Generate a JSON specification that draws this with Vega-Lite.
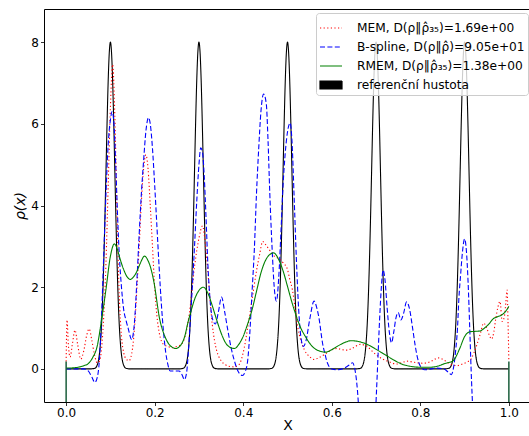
{
  "$schema": "https://vega.github.io/schema/vega-lite/v6.json",
  "width": 487,
  "height": 393,
  "autosize": "none",
  "padding": {"left": 44, "top": 9, "right": 0, "bottom": 34},
  "background": "white",
  "config": {
    "font": "DejaVu Sans",
    "view": {"stroke": "black", "strokeWidth": 1},
    "axis": {"grid": false, "domain": false, "tickColor": "black", "tickSize": 3.5, "tickWidth": 0.8, "labelColor": "black", "labelFontSize": 12, "labelPadding": 2, "titleColor": "black", "titleFontWeight": "normal", "titleFontSize": 14}
  },
  "data": {"values": [
    {"s":"REF","x":0,"y":0},
    {"s":"REF","x":0.055,"y":0},{"s":"REF","x":0.065,"y":0.0175},{"s":"REF","x":0.07,"y":0.089},{"s":"REF","x":0.0725,"y":0.18},{"s":"REF","x":0.075,"y":0.35},{"s":"REF","x":0.0775,"y":0.64},{"s":"REF","x":0.08,"y":1.08},{"s":"REF","x":0.0825,"y":1.73},{"s":"REF","x":0.085,"y":2.6},{"s":"REF","x":0.0875,"y":3.66},{"s":"REF","x":0.09,"y":4.85},{"s":"REF","x":0.0925,"y":6.04},{"s":"REF","x":0.095,"y":7.06},{"s":"REF","x":0.0975,"y":7.75},{"s":"REF","x":0.1,"y":8},{"s":"REF","x":0.1025,"y":7.75},{"s":"REF","x":0.105,"y":7.06},{"s":"REF","x":0.1075,"y":6.04},{"s":"REF","x":0.11,"y":4.85},{"s":"REF","x":0.1125,"y":3.66},{"s":"REF","x":0.115,"y":2.6},{"s":"REF","x":0.1175,"y":1.73},{"s":"REF","x":0.12,"y":1.08},{"s":"REF","x":0.1225,"y":0.64},{"s":"REF","x":0.125,"y":0.35},{"s":"REF","x":0.1275,"y":0.18},{"s":"REF","x":0.13,"y":0.089},{"s":"REF","x":0.135,"y":0.0175},{"s":"REF","x":0.145,"y":0},
    {"s":"REF","x":0.255,"y":0},{"s":"REF","x":0.265,"y":0.0175},{"s":"REF","x":0.27,"y":0.089},{"s":"REF","x":0.2725,"y":0.18},{"s":"REF","x":0.275,"y":0.35},{"s":"REF","x":0.2775,"y":0.64},{"s":"REF","x":0.28,"y":1.08},{"s":"REF","x":0.2825,"y":1.73},{"s":"REF","x":0.285,"y":2.6},{"s":"REF","x":0.2875,"y":3.66},{"s":"REF","x":0.29,"y":4.85},{"s":"REF","x":0.2925,"y":6.04},{"s":"REF","x":0.295,"y":7.06},{"s":"REF","x":0.2975,"y":7.75},{"s":"REF","x":0.3,"y":8},{"s":"REF","x":0.3025,"y":7.75},{"s":"REF","x":0.305,"y":7.06},{"s":"REF","x":0.3075,"y":6.04},{"s":"REF","x":0.31,"y":4.85},{"s":"REF","x":0.3125,"y":3.66},{"s":"REF","x":0.315,"y":2.6},{"s":"REF","x":0.3175,"y":1.73},{"s":"REF","x":0.32,"y":1.08},{"s":"REF","x":0.3225,"y":0.64},{"s":"REF","x":0.325,"y":0.35},{"s":"REF","x":0.3275,"y":0.18},{"s":"REF","x":0.33,"y":0.089},{"s":"REF","x":0.335,"y":0.0175},{"s":"REF","x":0.345,"y":0},
    {"s":"REF","x":0.455,"y":0},{"s":"REF","x":0.465,"y":0.0175},{"s":"REF","x":0.47,"y":0.089},{"s":"REF","x":0.4725,"y":0.18},{"s":"REF","x":0.475,"y":0.35},{"s":"REF","x":0.4775,"y":0.64},{"s":"REF","x":0.48,"y":1.08},{"s":"REF","x":0.4825,"y":1.73},{"s":"REF","x":0.485,"y":2.6},{"s":"REF","x":0.4875,"y":3.66},{"s":"REF","x":0.49,"y":4.85},{"s":"REF","x":0.4925,"y":6.04},{"s":"REF","x":0.495,"y":7.06},{"s":"REF","x":0.4975,"y":7.75},{"s":"REF","x":0.5,"y":8},{"s":"REF","x":0.5025,"y":7.75},{"s":"REF","x":0.505,"y":7.06},{"s":"REF","x":0.5075,"y":6.04},{"s":"REF","x":0.51,"y":4.85},{"s":"REF","x":0.5125,"y":3.66},{"s":"REF","x":0.515,"y":2.6},{"s":"REF","x":0.5175,"y":1.73},{"s":"REF","x":0.52,"y":1.08},{"s":"REF","x":0.5225,"y":0.64},{"s":"REF","x":0.525,"y":0.35},{"s":"REF","x":0.5275,"y":0.18},{"s":"REF","x":0.53,"y":0.089},{"s":"REF","x":0.535,"y":0.0175},{"s":"REF","x":0.545,"y":0},
    {"s":"REF","x":0.655,"y":0},{"s":"REF","x":0.665,"y":0.0175},{"s":"REF","x":0.67,"y":0.089},{"s":"REF","x":0.6725,"y":0.18},{"s":"REF","x":0.675,"y":0.35},{"s":"REF","x":0.6775,"y":0.64},{"s":"REF","x":0.68,"y":1.08},{"s":"REF","x":0.6825,"y":1.73},{"s":"REF","x":0.685,"y":2.6},{"s":"REF","x":0.6875,"y":3.66},{"s":"REF","x":0.69,"y":4.85},{"s":"REF","x":0.6925,"y":6.04},{"s":"REF","x":0.695,"y":7.06},{"s":"REF","x":0.6975,"y":7.75},{"s":"REF","x":0.7,"y":8},{"s":"REF","x":0.7025,"y":7.75},{"s":"REF","x":0.705,"y":7.06},{"s":"REF","x":0.7075,"y":6.04},{"s":"REF","x":0.71,"y":4.85},{"s":"REF","x":0.7125,"y":3.66},{"s":"REF","x":0.715,"y":2.6},{"s":"REF","x":0.7175,"y":1.73},{"s":"REF","x":0.72,"y":1.08},{"s":"REF","x":0.7225,"y":0.64},{"s":"REF","x":0.725,"y":0.35},{"s":"REF","x":0.7275,"y":0.18},{"s":"REF","x":0.73,"y":0.089},{"s":"REF","x":0.735,"y":0.0175},{"s":"REF","x":0.745,"y":0},
    {"s":"REF","x":0.855,"y":0},{"s":"REF","x":0.865,"y":0.0175},{"s":"REF","x":0.87,"y":0.089},{"s":"REF","x":0.8725,"y":0.18},{"s":"REF","x":0.875,"y":0.35},{"s":"REF","x":0.8775,"y":0.64},{"s":"REF","x":0.88,"y":1.08},{"s":"REF","x":0.8825,"y":1.73},{"s":"REF","x":0.885,"y":2.6},{"s":"REF","x":0.8875,"y":3.66},{"s":"REF","x":0.89,"y":4.85},{"s":"REF","x":0.8925,"y":6.04},{"s":"REF","x":0.895,"y":7.06},{"s":"REF","x":0.8975,"y":7.75},{"s":"REF","x":0.9,"y":8},{"s":"REF","x":0.9025,"y":7.75},{"s":"REF","x":0.905,"y":7.06},{"s":"REF","x":0.9075,"y":6.04},{"s":"REF","x":0.91,"y":4.85},{"s":"REF","x":0.9125,"y":3.66},{"s":"REF","x":0.915,"y":2.6},{"s":"REF","x":0.9175,"y":1.73},{"s":"REF","x":0.92,"y":1.08},{"s":"REF","x":0.9225,"y":0.64},{"s":"REF","x":0.925,"y":0.35},{"s":"REF","x":0.9275,"y":0.18},{"s":"REF","x":0.93,"y":0.089},{"s":"REF","x":0.935,"y":0.0175},{"s":"REF","x":0.945,"y":0},
    {"s":"REF","x":1,"y":0},

    {"s":"MEM","x":0,"y":0.18},{"s":"MEM","x":0.002,"y":1.2},{"s":"MEM","x":0.005,"y":0.6},{"s":"MEM","x":0.009,"y":0.29},{"s":"MEM","x":0.014,"y":0.6},{"s":"MEM","x":0.02,"y":0.95},{"s":"MEM","x":0.026,"y":0.6},{"s":"MEM","x":0.033,"y":0.24},{"s":"MEM","x":0.04,"y":0.45},{"s":"MEM","x":0.046,"y":0.8},{"s":"MEM","x":0.052,"y":0.98},{"s":"MEM","x":0.058,"y":0.7},{"s":"MEM","x":0.064,"y":0.35},{"s":"MEM","x":0.07,"y":0.15},{"s":"MEM","x":0.076,"y":0.2},{"s":"MEM","x":0.08,"y":0.5},{"s":"MEM","x":0.085,"y":1.3},{"s":"MEM","x":0.09,"y":2.6},{"s":"MEM","x":0.095,"y":4.5},{"s":"MEM","x":0.1,"y":6.4},{"s":"MEM","x":0.105,"y":7.45},{"s":"MEM","x":0.11,"y":6.2},{"s":"MEM","x":0.115,"y":3.8},{"s":"MEM","x":0.12,"y":1.8},{"s":"MEM","x":0.125,"y":0.8},{"s":"MEM","x":0.13,"y":0.4},{"s":"MEM","x":0.135,"y":0.25},{"s":"MEM","x":0.142,"y":0.2},{"s":"MEM","x":0.15,"y":0.5},{"s":"MEM","x":0.155,"y":1.1},{"s":"MEM","x":0.16,"y":2.0},{"s":"MEM","x":0.165,"y":3.0},{"s":"MEM","x":0.17,"y":4.1},{"s":"MEM","x":0.175,"y":4.9},{"s":"MEM","x":0.18,"y":5.24},{"s":"MEM","x":0.185,"y":4.9},{"s":"MEM","x":0.19,"y":4.0},{"s":"MEM","x":0.195,"y":3.0},{"s":"MEM","x":0.2,"y":2.0},{"s":"MEM","x":0.205,"y":1.3},{"s":"MEM","x":0.21,"y":0.9},{"s":"MEM","x":0.22,"y":0.6},{"s":"MEM","x":0.23,"y":0.55},{"s":"MEM","x":0.24,"y":0.52},{"s":"MEM","x":0.25,"y":0.55},{"s":"MEM","x":0.26,"y":0.6},{"s":"MEM","x":0.27,"y":0.85},{"s":"MEM","x":0.28,"y":1.5},{"s":"MEM","x":0.29,"y":2.5},{"s":"MEM","x":0.3,"y":3.2},{"s":"MEM","x":0.308,"y":3.5},{"s":"MEM","x":0.315,"y":3.0},{"s":"MEM","x":0.32,"y":2.4},{"s":"MEM","x":0.325,"y":1.7},{"s":"MEM","x":0.33,"y":1.1},{"s":"MEM","x":0.335,"y":0.7},{"s":"MEM","x":0.34,"y":0.45},{"s":"MEM","x":0.35,"y":0.2},{"s":"MEM","x":0.36,"y":0.1},{"s":"MEM","x":0.37,"y":0.06},{"s":"MEM","x":0.38,"y":0.05},{"s":"MEM","x":0.39,"y":0.1},{"s":"MEM","x":0.4,"y":0.4},{"s":"MEM","x":0.41,"y":1.0},{"s":"MEM","x":0.42,"y":1.7},{"s":"MEM","x":0.43,"y":2.4},{"s":"MEM","x":0.437,"y":2.8},{"s":"MEM","x":0.444,"y":3.12},{"s":"MEM","x":0.45,"y":3.05},{"s":"MEM","x":0.46,"y":2.9},{"s":"MEM","x":0.47,"y":2.76},{"s":"MEM","x":0.48,"y":2.7},{"s":"MEM","x":0.49,"y":2.6},{"s":"MEM","x":0.5,"y":2.43},{"s":"MEM","x":0.505,"y":2.2},{"s":"MEM","x":0.511,"y":1.94},{"s":"MEM","x":0.517,"y":1.5},{"s":"MEM","x":0.523,"y":1.04},{"s":"MEM","x":0.53,"y":0.7},{"s":"MEM","x":0.538,"y":0.47},{"s":"MEM","x":0.55,"y":0.3},{"s":"MEM","x":0.56,"y":0.23},{"s":"MEM","x":0.57,"y":0.27},{"s":"MEM","x":0.583,"y":0.35},{"s":"MEM","x":0.6,"y":0.47},{"s":"MEM","x":0.612,"y":0.5},{"s":"MEM","x":0.624,"y":0.47},{"s":"MEM","x":0.635,"y":0.46},{"s":"MEM","x":0.647,"y":0.51},{"s":"MEM","x":0.665,"y":0.6},{"s":"MEM","x":0.68,"y":0.55},{"s":"MEM","x":0.69,"y":0.45},{"s":"MEM","x":0.7,"y":0.35},{"s":"MEM","x":0.713,"y":0.25},{"s":"MEM","x":0.726,"y":0.19},{"s":"MEM","x":0.737,"y":0.14},{"s":"MEM","x":0.748,"y":0.12},{"s":"MEM","x":0.76,"y":0.16},{"s":"MEM","x":0.77,"y":0.19},{"s":"MEM","x":0.782,"y":0.17},{"s":"MEM","x":0.793,"y":0.15},{"s":"MEM","x":0.805,"y":0.14},{"s":"MEM","x":0.816,"y":0.15},{"s":"MEM","x":0.83,"y":0.22},{"s":"MEM","x":0.84,"y":0.27},{"s":"MEM","x":0.856,"y":0.2},{"s":"MEM","x":0.865,"y":0.13},{"s":"MEM","x":0.875,"y":0.09},{"s":"MEM","x":0.883,"y":0.08},{"s":"MEM","x":0.895,"y":0.12},{"s":"MEM","x":0.906,"y":0.17},{"s":"MEM","x":0.915,"y":0.25},{"s":"MEM","x":0.921,"y":0.39},{"s":"MEM","x":0.928,"y":0.6},{"s":"MEM","x":0.936,"y":0.88},{"s":"MEM","x":0.943,"y":1.12},{"s":"MEM","x":0.95,"y":1.0},{"s":"MEM","x":0.956,"y":0.82},{"s":"MEM","x":0.961,"y":0.73},{"s":"MEM","x":0.966,"y":0.9},{"s":"MEM","x":0.97,"y":1.2},{"s":"MEM","x":0.975,"y":1.5},{"s":"MEM","x":0.98,"y":1.65},{"s":"MEM","x":0.985,"y":1.16},{"s":"MEM","x":0.99,"y":1.29},{"s":"MEM","x":0.993,"y":1.6},{"s":"MEM","x":0.996,"y":1.93},{"s":"MEM","x":0.998,"y":1.2},{"s":"MEM","x":1,"y":0.18},

    {"s":"BS","x":0,"y":0},{"s":"BS","x":0.02,"y":0},{"s":"BS","x":0.04,"y":0},{"s":"BS","x":0.05,"y":-0.05},{"s":"BS","x":0.058,"y":-0.2},{"s":"BS","x":0.065,"y":-0.33},{"s":"BS","x":0.07,"y":-0.22},{"s":"BS","x":0.075,"y":0.2},{"s":"BS","x":0.08,"y":1.3},{"s":"BS","x":0.085,"y":2.8},{"s":"BS","x":0.09,"y":4.3},{"s":"BS","x":0.095,"y":5.5},{"s":"BS","x":0.1,"y":6.1},{"s":"BS","x":0.104,"y":6.3},{"s":"BS","x":0.108,"y":6.0},{"s":"BS","x":0.112,"y":5.0},{"s":"BS","x":0.116,"y":3.8},{"s":"BS","x":0.12,"y":2.8},{"s":"BS","x":0.125,"y":2.0},{"s":"BS","x":0.13,"y":1.45},{"s":"BS","x":0.135,"y":1.2},{"s":"BS","x":0.14,"y":1.0},{"s":"BS","x":0.148,"y":0.72},{"s":"BS","x":0.154,"y":1.1},{"s":"BS","x":0.16,"y":2.2},{"s":"BS","x":0.165,"y":3.3},{"s":"BS","x":0.17,"y":4.3},{"s":"BS","x":0.175,"y":5.1},{"s":"BS","x":0.18,"y":5.8},{"s":"BS","x":0.186,"y":6.15},{"s":"BS","x":0.19,"y":6.0},{"s":"BS","x":0.195,"y":5.4},{"s":"BS","x":0.2,"y":4.5},{"s":"BS","x":0.205,"y":3.5},{"s":"BS","x":0.21,"y":2.5},{"s":"BS","x":0.215,"y":1.6},{"s":"BS","x":0.22,"y":0.9},{"s":"BS","x":0.225,"y":0.4},{"s":"BS","x":0.23,"y":0.1},{"s":"BS","x":0.235,"y":-0.05},{"s":"BS","x":0.245,"y":-0.05},{"s":"BS","x":0.255,"y":-0.05},{"s":"BS","x":0.262,"y":-0.15},{"s":"BS","x":0.267,"y":-0.26},{"s":"BS","x":0.272,"y":-0.1},{"s":"BS","x":0.276,"y":0.4},{"s":"BS","x":0.28,"y":1.1},{"s":"BS","x":0.285,"y":2.0},{"s":"BS","x":0.29,"y":3.0},{"s":"BS","x":0.295,"y":4.1},{"s":"BS","x":0.3,"y":5.0},{"s":"BS","x":0.304,"y":5.41},{"s":"BS","x":0.308,"y":5.3},{"s":"BS","x":0.312,"y":4.7},{"s":"BS","x":0.316,"y":3.7},{"s":"BS","x":0.32,"y":2.6},{"s":"BS","x":0.325,"y":1.7},{"s":"BS","x":0.33,"y":1.25},{"s":"BS","x":0.337,"y":1.1},{"s":"BS","x":0.344,"y":1.4},{"s":"BS","x":0.351,"y":1.76},{"s":"BS","x":0.358,"y":1.4},{"s":"BS","x":0.365,"y":0.96},{"s":"BS","x":0.372,"y":0.55},{"s":"BS","x":0.38,"y":0.2},{"s":"BS","x":0.388,"y":-0.05},{"s":"BS","x":0.398,"y":-0.16},{"s":"BS","x":0.405,"y":-0.05},{"s":"BS","x":0.41,"y":0.2},{"s":"BS","x":0.415,"y":0.9},{"s":"BS","x":0.42,"y":1.9},{"s":"BS","x":0.425,"y":2.9},{"s":"BS","x":0.43,"y":4.3},{"s":"BS","x":0.435,"y":5.4},{"s":"BS","x":0.44,"y":6.3},{"s":"BS","x":0.446,"y":6.73},{"s":"BS","x":0.452,"y":6.5},{"s":"BS","x":0.456,"y":5.6},{"s":"BS","x":0.46,"y":4.3},{"s":"BS","x":0.465,"y":3.0},{"s":"BS","x":0.47,"y":2.0},{"s":"BS","x":0.475,"y":1.66},{"s":"BS","x":0.48,"y":2.2},{"s":"BS","x":0.485,"y":3.3},{"s":"BS","x":0.49,"y":4.5},{"s":"BS","x":0.495,"y":5.3},{"s":"BS","x":0.5,"y":5.8},{"s":"BS","x":0.506,"y":6.02},{"s":"BS","x":0.51,"y":5.6},{"s":"BS","x":0.515,"y":4.2},{"s":"BS","x":0.52,"y":2.7},{"s":"BS","x":0.525,"y":1.5},{"s":"BS","x":0.53,"y":0.8},{"s":"BS","x":0.536,"y":0.55},{"s":"BS","x":0.542,"y":0.7},{"s":"BS","x":0.55,"y":1.2},{"s":"BS","x":0.56,"y":1.66},{"s":"BS","x":0.566,"y":1.5},{"s":"BS","x":0.571,"y":1.25},{"s":"BS","x":0.579,"y":0.64},{"s":"BS","x":0.585,"y":0.35},{"s":"BS","x":0.59,"y":0.15},{"s":"BS","x":0.6,"y":0.0},{"s":"BS","x":0.613,"y":-0.02},{"s":"BS","x":0.628,"y":0.02},{"s":"BS","x":0.64,"y":0.1},{"s":"BS","x":0.647,"y":0.15},{"s":"BS","x":0.652,"y":0.0},{"s":"BS","x":0.656,"y":-0.3},{"s":"BS","x":0.66,"y":-0.83},{"s":"BS","x":0.665,"y":-2},{"s":"BS","x":0.675,"y":-3.5},{"s":"BS","x":0.685,"y":-3.5},{"s":"BS","x":0.695,"y":-2},{"s":"BS","x":0.7,"y":-0.8},{"s":"BS","x":0.704,"y":0.2},{"s":"BS","x":0.708,"y":1.2},{"s":"BS","x":0.712,"y":2.0},{"s":"BS","x":0.716,"y":2.42},{"s":"BS","x":0.72,"y":2.2},{"s":"BS","x":0.725,"y":1.5},{"s":"BS","x":0.73,"y":0.9},{"s":"BS","x":0.735,"y":0.64},{"s":"BS","x":0.74,"y":0.9},{"s":"BS","x":0.745,"y":1.25},{"s":"BS","x":0.75,"y":1.38},{"s":"BS","x":0.756,"y":1.2},{"s":"BS","x":0.762,"y":1.35},{"s":"BS","x":0.769,"y":1.64},{"s":"BS","x":0.776,"y":1.45},{"s":"BS","x":0.782,"y":1.04},{"s":"BS","x":0.788,"y":0.6},{"s":"BS","x":0.793,"y":0.3},{"s":"BS","x":0.8,"y":0.07},{"s":"BS","x":0.81,"y":-0.02},{"s":"BS","x":0.825,"y":0.0},{"s":"BS","x":0.838,"y":0.02},{"s":"BS","x":0.853,"y":0.0},{"s":"BS","x":0.863,"y":-0.08},{"s":"BS","x":0.87,"y":-0.14},{"s":"BS","x":0.876,"y":0.1},{"s":"BS","x":0.88,"y":0.47},{"s":"BS","x":0.884,"y":1.0},{"s":"BS","x":0.887,"y":1.7},{"s":"BS","x":0.891,"y":2.3},{"s":"BS","x":0.895,"y":2.84},{"s":"BS","x":0.9,"y":3.18},{"s":"BS","x":0.904,"y":2.9},{"s":"BS","x":0.908,"y":2.1},{"s":"BS","x":0.912,"y":0.88},{"s":"BS","x":0.915,"y":-0.1},{"s":"BS","x":0.918,"y":-0.9},{"s":"BS","x":0.925,"y":-3},{"s":"BS","x":0.94,"y":-8},{"s":"BS","x":0.97,"y":-15},{"s":"BS","x":1,"y":-20},

    {"s":"RMEM","x":0,"y":0.02},{"s":"RMEM","x":0.02,"y":0.03},{"s":"RMEM","x":0.04,"y":0.08},{"s":"RMEM","x":0.05,"y":0.13},{"s":"RMEM","x":0.06,"y":0.28},{"s":"RMEM","x":0.07,"y":0.55},{"s":"RMEM","x":0.08,"y":1.2},{"s":"RMEM","x":0.09,"y":1.95},{"s":"RMEM","x":0.1,"y":2.76},{"s":"RMEM","x":0.109,"y":3.06},{"s":"RMEM","x":0.115,"y":2.95},{"s":"RMEM","x":0.12,"y":2.76},{"s":"RMEM","x":0.13,"y":2.43},{"s":"RMEM","x":0.138,"y":2.25},{"s":"RMEM","x":0.145,"y":2.19},{"s":"RMEM","x":0.152,"y":2.25},{"s":"RMEM","x":0.16,"y":2.39},{"s":"RMEM","x":0.168,"y":2.6},{"s":"RMEM","x":0.177,"y":2.76},{"s":"RMEM","x":0.185,"y":2.65},{"s":"RMEM","x":0.19,"y":2.51},{"s":"RMEM","x":0.195,"y":2.3},{"s":"RMEM","x":0.2,"y":2.02},{"s":"RMEM","x":0.205,"y":1.65},{"s":"RMEM","x":0.21,"y":1.29},{"s":"RMEM","x":0.215,"y":1.05},{"s":"RMEM","x":0.22,"y":0.88},{"s":"RMEM","x":0.228,"y":0.68},{"s":"RMEM","x":0.235,"y":0.57},{"s":"RMEM","x":0.248,"y":0.5},{"s":"RMEM","x":0.26,"y":0.6},{"s":"RMEM","x":0.268,"y":0.8},{"s":"RMEM","x":0.275,"y":1.13},{"s":"RMEM","x":0.283,"y":1.45},{"s":"RMEM","x":0.29,"y":1.7},{"s":"RMEM","x":0.3,"y":1.92},{"s":"RMEM","x":0.31,"y":2.0},{"s":"RMEM","x":0.32,"y":1.86},{"s":"RMEM","x":0.33,"y":1.55},{"s":"RMEM","x":0.34,"y":1.2},{"s":"RMEM","x":0.35,"y":0.88},{"s":"RMEM","x":0.36,"y":0.64},{"s":"RMEM","x":0.37,"y":0.53},{"s":"RMEM","x":0.38,"y":0.5},{"s":"RMEM","x":0.39,"y":0.6},{"s":"RMEM","x":0.4,"y":0.8},{"s":"RMEM","x":0.41,"y":1.1},{"s":"RMEM","x":0.42,"y":1.45},{"s":"RMEM","x":0.43,"y":1.9},{"s":"RMEM","x":0.44,"y":2.35},{"s":"RMEM","x":0.45,"y":2.65},{"s":"RMEM","x":0.46,"y":2.8},{"s":"RMEM","x":0.468,"y":2.84},{"s":"RMEM","x":0.475,"y":2.78},{"s":"RMEM","x":0.48,"y":2.68},{"s":"RMEM","x":0.49,"y":2.4},{"s":"RMEM","x":0.5,"y":2.02},{"s":"RMEM","x":0.51,"y":1.63},{"s":"RMEM","x":0.52,"y":1.29},{"s":"RMEM","x":0.53,"y":1.0},{"s":"RMEM","x":0.54,"y":0.8},{"s":"RMEM","x":0.55,"y":0.63},{"s":"RMEM","x":0.56,"y":0.51},{"s":"RMEM","x":0.572,"y":0.44},{"s":"RMEM","x":0.586,"y":0.41},{"s":"RMEM","x":0.6,"y":0.47},{"s":"RMEM","x":0.612,"y":0.55},{"s":"RMEM","x":0.63,"y":0.65},{"s":"RMEM","x":0.643,"y":0.69},{"s":"RMEM","x":0.665,"y":0.66},{"s":"RMEM","x":0.68,"y":0.6},{"s":"RMEM","x":0.7,"y":0.48},{"s":"RMEM","x":0.72,"y":0.35},{"s":"RMEM","x":0.74,"y":0.22},{"s":"RMEM","x":0.76,"y":0.11},{"s":"RMEM","x":0.78,"y":0.06},{"s":"RMEM","x":0.8,"y":0.04},{"s":"RMEM","x":0.82,"y":0.04},{"s":"RMEM","x":0.84,"y":0.07},{"s":"RMEM","x":0.855,"y":0.13},{"s":"RMEM","x":0.874,"y":0.2},{"s":"RMEM","x":0.889,"y":0.5},{"s":"RMEM","x":0.9,"y":0.79},{"s":"RMEM","x":0.912,"y":0.91},{"s":"RMEM","x":0.925,"y":0.92},{"s":"RMEM","x":0.935,"y":0.93},{"s":"RMEM","x":0.945,"y":1.0},{"s":"RMEM","x":0.955,"y":1.1},{"s":"RMEM","x":0.964,"y":1.22},{"s":"RMEM","x":0.975,"y":1.28},{"s":"RMEM","x":0.985,"y":1.33},{"s":"RMEM","x":0.992,"y":1.4},{"s":"RMEM","x":1,"y":1.53}
  ]},
  "layer": [
    {
      "transform": [{"filter": "datum.s === 'REF'"}],
      "mark": {"type": "line", "clip": true, "strokeWidth": 1.1, "interpolate": "monotone"},
      "encoding": {
        "x": {"field": "x", "type": "quantitative", "scale": {"domain": [-0.05, 1.05], "nice": false, "zero": false},
              "axis": {"title": "X", "values": [0, 0.2, 0.4, 0.6, 0.8, 1.0], "format": ".1f", "titlePadding": 0}},
        "y": {"field": "y", "type": "quantitative", "scale": {"domain": [-0.81, 8.81], "nice": false, "zero": false},
              "axis": {"title": "ρ(x)", "titleFontStyle": "italic", "values": [0, 2, 4, 6, 8], "format": "d", "titlePadding": 3}},
        "color": {"field": "s", "type": "nominal", "scale": {"domain": ["MEM", "BS", "RMEM", "REF"], "range": ["#ff0000", "#0000ff", "#008000", "#000000"]},
          "legend": {"title": null, "orient": "none", "legendX": 272, "legendY": 4,
            "labelExpr": "datum.value === 'MEM' ? 'MEM, D(ρ‖ρ̂₃₅)=1.69e+00' : datum.value === 'BS' ? 'B-spline, D(ρ‖ρ̂)=9.05e+01' : datum.value === 'RMEM' ? 'RMEM, D(ρ‖ρ̂₃₅)=1.38e+00' : 'referenční hustota'",
            "labelFontSize": 12.2, "labelLimit": 400, "labelColor": "black", "labelOffset": 14, "symbolType": "stroke", "symbolSize": 484, "symbolStrokeWidth": 1.2,
            "rowPadding": -1.3, "padding": 3, "fillColor": "rgba(255,255,255,0.8)", "strokeColor": "#cccccc", "cornerRadius": 3,
            "encode": {"symbols": {"update": {
              "shape": {"signal": "datum.value === 'REF' ? 'M-1,-0.36H1V0.36H-1Z' : 'stroke'"},
              "fill": {"signal": "datum.value === 'REF' ? 'black' : 'transparent'"}}}}}},
        "strokeDash": {"field": "s", "type": "nominal", "scale": {"domain": ["MEM", "BS", "RMEM", "REF"], "range": [[1.2, 2.4], [5, 2.4], [1, 0], [1, 0]]}}
      }
    },
    {
      "transform": [{"filter": "datum.s === 'MEM'"}],
      "mark": {"type": "line", "clip": true, "strokeWidth": 1.1, "interpolate": "monotone"},
      "encoding": {
        "x": {"field": "x", "type": "quantitative"},
        "y": {"field": "y", "type": "quantitative"},
        "color": {"field": "s", "type": "nominal"},
        "strokeDash": {"field": "s", "type": "nominal"}
      }
    },
    {
      "transform": [{"filter": "datum.s === 'BS'"}],
      "mark": {"type": "line", "clip": true, "strokeWidth": 1.1, "interpolate": "monotone"},
      "encoding": {
        "x": {"field": "x", "type": "quantitative"},
        "y": {"field": "y", "type": "quantitative"},
        "color": {"field": "s", "type": "nominal"},
        "strokeDash": {"field": "s", "type": "nominal"}
      }
    },
    {
      "transform": [{"filter": "datum.s === 'RMEM'"}],
      "mark": {"type": "line", "clip": true, "strokeWidth": 1.1, "interpolate": "monotone"},
      "encoding": {
        "x": {"field": "x", "type": "quantitative"},
        "y": {"field": "y", "type": "quantitative"},
        "color": {"field": "s", "type": "nominal"},
        "strokeDash": {"field": "s", "type": "nominal"}
      }
    },
    {
      "data": {"values": [{"x": 0, "y": -5, "y2": 0.18}, {"x": 1, "y": -5, "y2": 0.18}]},
      "mark": {"type": "rule", "clip": true, "color": "#1b5e3b", "strokeWidth": 1.5},
      "encoding": {
        "x": {"field": "x", "type": "quantitative"},
        "y": {"field": "y", "type": "quantitative"},
        "y2": {"field": "y2"}
      }
    }
  ]
}
